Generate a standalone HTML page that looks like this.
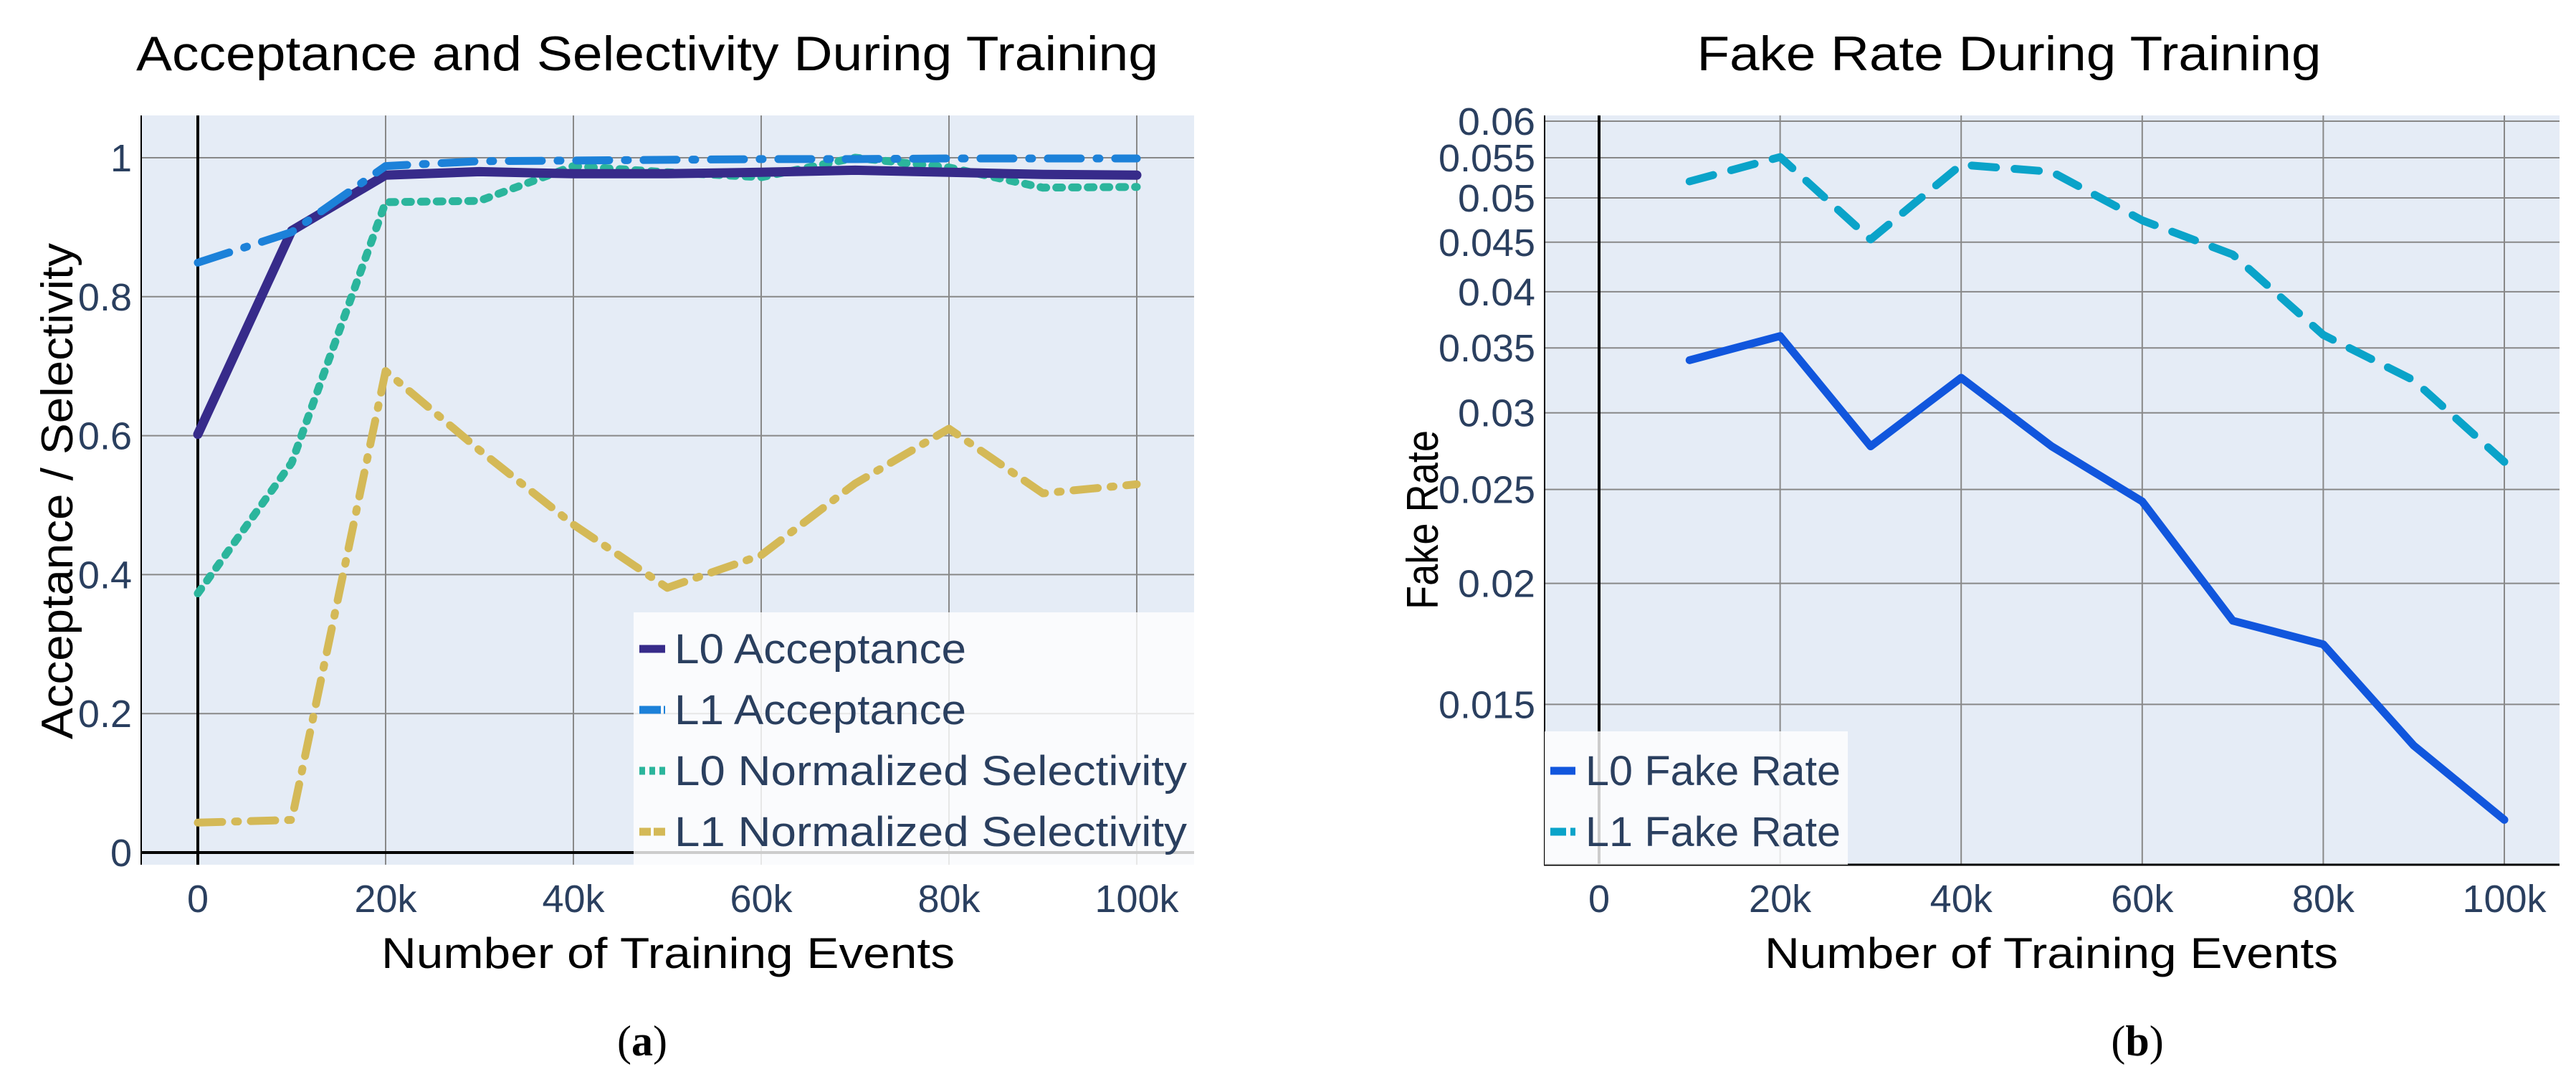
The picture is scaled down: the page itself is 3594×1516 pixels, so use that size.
<!DOCTYPE html>
<html><head><meta charset="utf-8"><style>
html,body{margin:0;padding:0;background:#fff;}
svg{display:block;font-family:"Liberation Sans",sans-serif;}
</style></head><body>
<svg id="fig" width="3594" height="1516" viewBox="0 0 3594 1516" xmlns="http://www.w3.org/2000/svg">
<g id="ca"></g>
<g id="cb"></g>
</svg>
<script>
const xVals = [0,10,20,30,40,50,60,70,80,90,100];
const l0Acc = [0.602,0.895,0.975,0.980,0.977,0.977,0.979,0.982,0.979,0.976,0.975];
const l1Acc = [0.849,0.893,0.988,0.995,0.996,0.997,0.998,0.998,0.999,0.999,0.999];
const l0Sel = [0.373,0.561,0.936,0.938,0.988,0.979,0.972,1.0,0.986,0.957,0.958];
const l1Sel = [0.043,0.047,0.693,0.579,0.472,0.381,0.428,0.531,0.610,0.517,0.530];
const xTicksA = [0,20,40,60,80,100];
const xTickLabels = ["0","20k","40k","60k","80k","100k"];
const yTicksA = [0,0.2,0.4,0.6,0.8,1];
const yTickLabelsA = ["0","0.2","0.4","0.6","0.8","1"];
const xValsB = [10,20,30,40,50,60,70,80,90,100];
const l0Fake = [0.0340,0.0360,0.0277,0.0326,0.0277,0.0243,0.0183,0.0173,0.0136,0.0114];
const l1Fake = [0.0520,0.0551,0.0453,0.0541,0.0532,0.0474,0.0437,0.0361,0.0324,0.0267];
const yTicksB = [0.015,0.02,0.025,0.03,0.035,0.04,0.045,0.05,0.055,0.06];
const yTickLabelsB = ["0.015","0.02","0.025","0.03","0.035","0.04","0.045","0.05","0.055","0.06"];

const NS="http://www.w3.org/2000/svg";
function mk(parent,tag,attrs,text){const e=document.createElementNS(NS,tag);for(const k in attrs)e.setAttribute(k,attrs[k]);if(text!==undefined)e.textContent=text;parent.appendChild(e);return e;}
const TXT="#2a3f5f";

/* ---------- Chart A ---------- */
const A=document.getElementById('ca');
const ax=v=>276+v*13.1;
const ay=v=>1189-v*969;
const pa=mk(A,'rect',{x:196,y:161,width:1470,height:1045,fill:'#e5ecf6'});


xTicksA.forEach((t,i)=>{
  if(t!==0){const g=mk(A,'line',{x1:ax(t),x2:ax(t),y1:161,y2:1206,stroke:'#888',"stroke-width":2});
  }
  const l=mk(A,'text',{x:ax(t),y:1272,"text-anchor":"middle","font-size":54,fill:TXT},xTickLabels[i]);
  
});
yTicksA.forEach((t,i)=>{
  if(t!==0){const g=mk(A,'line',{x1:196,x2:1666,y1:ay(t),y2:ay(t),stroke:'#888',"stroke-width":2});
  }
  const l=mk(A,'text',{x:184,y:ay(t)+19,"text-anchor":"end","font-size":54,fill:TXT},yTickLabelsA[i]);
  
});
let z=mk(A,'line',{x1:ax(0),x2:ax(0),y1:161,y2:1206,stroke:'#000',"stroke-width":4});

z=mk(A,'line',{x1:196,x2:1666,y1:ay(0),y2:ay(0),stroke:'#000',"stroke-width":4});

z=mk(A,'line',{x1:197,x2:197,y1:161,y2:1206,stroke:'#000',"stroke-width":2});


function series(parent,xs,ys,fx,fy,color,w,dash,name){
  const pts=xs.map((x,i)=>fx(x).toFixed(1)+','+fy(ys[i]).toFixed(1)).join(' ');
  const p=mk(parent,'polyline',{points:pts,fill:'none',stroke:color,"stroke-width":w,"stroke-linejoin":"round","stroke-linecap":"round"});
  if(dash)p.setAttribute('stroke-dasharray',dash);
  
  
}
series(A,xVals,l1Sel,ax,ay,'#d4b957',11,'34,18,4,18','l1-normalized-selectivity-line');
series(A,xVals,l0Sel,ax,ay,'#2bb59c',11,'8,14','l0-normalized-selectivity-line');
series(A,xVals,l0Acc,ax,ay,'#372b8a',13,null,'l0-acceptance-line');
series(A,xVals,l1Acc,ax,ay,'#1c81d9',11,'46,22,4,22','l1-acceptance-line');

const lg=mk(A,'g',{});

mk(lg,'rect',{x:884,y:854,width:782,height:352,fill:'#fff',"fill-opacity":0.8});
const legA=[["L0 Acceptance",'#372b8a',null,407],["L1 Acceptance",'#1c81d9','30,4',407],["L0 Normalized Selectivity",'#2bb59c','8,6',715],["L1 Normalized Selectivity",'#d4b957','16,4',715]];
legA.forEach((e,i)=>{
  const y=905+i*85;
  const g=mk(lg,'g',{});
  
  const s=mk(g,'line',{x1:892,x2:928,y1:y,y2:y,stroke:e[1],"stroke-width":11});
  if(e[2])s.setAttribute('stroke-dasharray',e[2]);
  mk(g,'text',{x:941,y:y+20,"font-size":58,fill:TXT,textLength:e[3],lengthAdjust:"spacingAndGlyphs"},e[0]);
});
let t=mk(A,'text',{x:903,y:98,"text-anchor":"middle","font-size":68,fill:'#000',textLength:1426,lengthAdjust:"spacingAndGlyphs"},"Acceptance and Selectivity During Training");

t=mk(A,'text',{x:932,y:1350,"text-anchor":"middle","font-size":60,fill:'#000',textLength:800,lengthAdjust:"spacingAndGlyphs"},"Number of Training Events");

t=mk(A,'text',{x:0,y:0,transform:"translate(101,685) rotate(-90)","text-anchor":"middle","font-size":62,fill:'#000',textLength:692,lengthAdjust:"spacingAndGlyphs"},"Acceptance / Selectivity");

t=mk(A,'text',{x:896,y:1472,"text-anchor":"middle","font-size":60,fill:'#000',"font-family":"Liberation Serif, serif"},"");

mk(t,'tspan',{},"(");mk(t,'tspan',{"font-weight":"bold"},"a");mk(t,'tspan',{},")");

/* ---------- Chart B ---------- */
const B=document.getElementById('cb');
const bx=v=>2231+v*12.63;
const by=v=>169+(Math.log10(0.06)-Math.log10(v))*1351;
const pb=mk(B,'rect',{x:2154,y:161,width:1417,height:1045,fill:'#e5ecf6'});

xTicksA.forEach((tk,i)=>{
  if(tk!==0){const g=mk(B,'line',{x1:bx(tk),x2:bx(tk),y1:161,y2:1206,stroke:'#888',"stroke-width":2});
  }
  const l=mk(B,'text',{x:bx(tk),y:1272,"text-anchor":"middle","font-size":54,fill:TXT},xTickLabels[i]);
  
});
yTicksB.forEach((tk,i)=>{
  const g=mk(B,'line',{x1:2154,x2:3571,y1:by(tk),y2:by(tk),stroke:'#888',"stroke-width":2});
  
  const l=mk(B,'text',{x:2142,y:by(tk)+19,"text-anchor":"end","font-size":54,fill:TXT,textLength:yTickLabelsB[i].length*27,lengthAdjust:"spacingAndGlyphs"},yTickLabelsB[i]);
  
});
z=mk(B,'line',{x1:bx(0),x2:bx(0),y1:161,y2:1206,stroke:'#000',"stroke-width":4});

z=mk(B,'line',{x1:2155,x2:2155,y1:161,y2:1206,stroke:'#000',"stroke-width":2});

z=mk(B,'line',{x1:2154,x2:3571,y1:1206,y2:1206,stroke:'#000',"stroke-width":3});

series(B,xValsB,l1Fake,bx,by,'#0aa3c9',11,'34,26','l1-fake-rate-line');
series(B,xValsB,l0Fake,bx,by,'#1156dd',11,null,'l0-fake-rate-line');

const lb=mk(B,'g',{});

mk(lb,'rect',{x:2155,y:1020,width:423,height:186,fill:'#fff',"fill-opacity":0.8});
const legB=[["L0 Fake Rate",'#1156dd',null],["L1 Fake Rate",'#0aa3c9','22,6']];
legB.forEach((e,i)=>{
  const y=1075+i*85;
  const g=mk(lb,'g',{});
  
  const s=mk(g,'line',{x1:2163,x2:2198,y1:y,y2:y,stroke:e[1],"stroke-width":11});
  if(e[2])s.setAttribute('stroke-dasharray',e[2]);
  mk(g,'text',{x:2212,y:y+20,"font-size":58,fill:TXT,textLength:356,lengthAdjust:"spacingAndGlyphs"},e[0]);
});
t=mk(B,'text',{x:2803,y:98,"text-anchor":"middle","font-size":68,fill:'#000',textLength:871,lengthAdjust:"spacingAndGlyphs"},"Fake Rate During Training");

t=mk(B,'text',{x:2862,y:1350,"text-anchor":"middle","font-size":60,fill:'#000',textLength:800,lengthAdjust:"spacingAndGlyphs"},"Number of Training Events");

t=mk(B,'text',{x:0,y:0,transform:"translate(2006,725) rotate(-90)","text-anchor":"middle","font-size":62,fill:'#000',textLength:250,lengthAdjust:"spacingAndGlyphs"},"Fake Rate");

t=mk(B,'text',{x:2982,y:1472,"text-anchor":"middle","font-size":60,fill:'#000',"font-family":"Liberation Serif, serif"},"");

mk(t,'tspan',{},"(");mk(t,'tspan',{"font-weight":"bold"},"b");mk(t,'tspan',{},")");
</script>
</body></html>
